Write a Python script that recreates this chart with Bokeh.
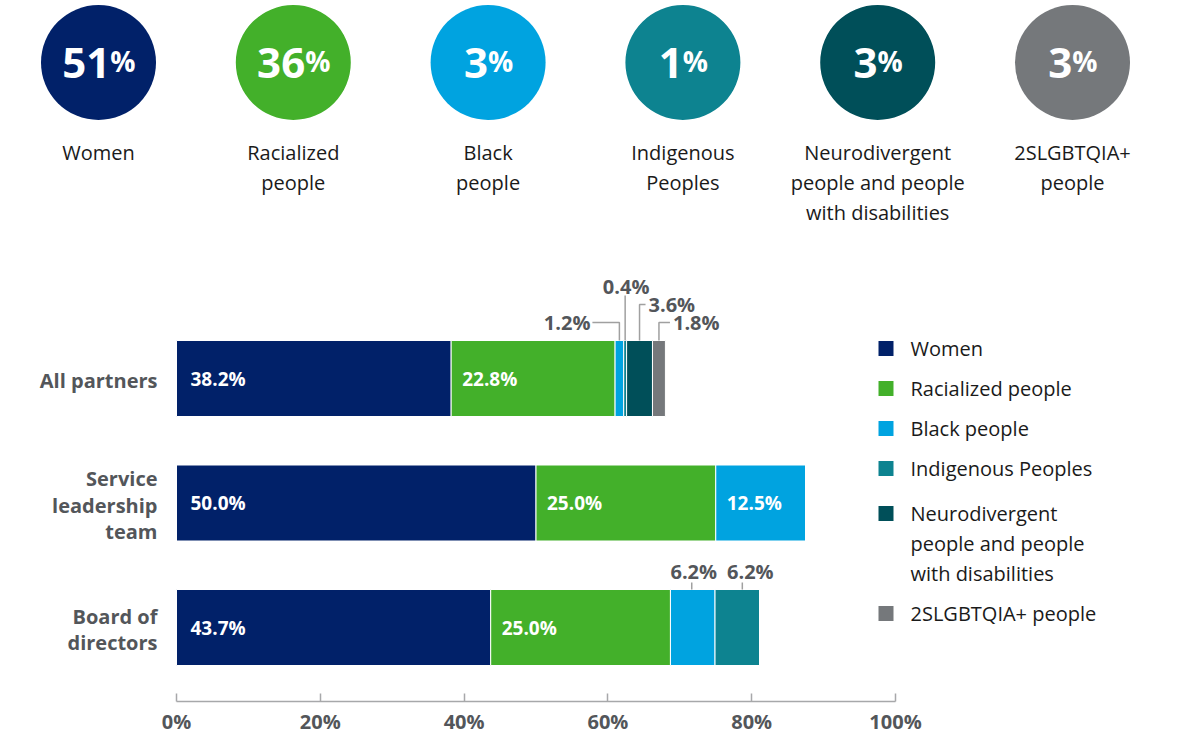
from bokeh.plotting import figure
from bokeh.layouts import column
from bokeh.models import Range1d, FixedTicker
from bokeh.core.properties import value
from bokeh.embed import file_html
from bokeh.resources import INLINE

# ---------------- data ----------------
groups = ["Women", "Racialized people", "Black people", "Indigenous Peoples",
          "Neurodivergent people and people with disabilities", "2SLGBTQIA+ people"]
overall_pct = [51, 36, 3, 1, 3, 3]
circle_labels = [["Women"], ["Racialized", "people"], ["Black", "people"],
                 ["Indigenous", "Peoples"],
                 ["Neurodivergent", "people and people", "with disabilities"],
                 ["2SLGBTQIA+", "people"]]
legend_labels = [["Women"], ["Racialized people"], ["Black people"], ["Indigenous Peoples"],
                 ["Neurodivergent", "people and people", "with disabilities"],
                 ["2SLGBTQIA+ people"]]
colors = ["#012169", "#43B02A", "#00A3E0", "#0D8390", "#004F59", "#75787B"]

rows = ["All partners", "Service leadership team", "Board of directors"]
row_labels = [["All partners"], ["Service", "leadership", "team"], ["Board of", "directors"]]
women = [38.2, 50.0, 43.7]
racialized = [22.8, 25.0, 25.0]
black = [1.2, 12.5, 6.2]
indigenous = [0.4, 0.0, 6.2]
neuro = [3.6, 0.0, 0.0]
lgbt = [1.8, 0.0, 0.0]
series = [women, racialized, black, indigenous, neuro, lgbt]
keys = ["women", "racialized", "black", "indigenous", "neuro", "lgbt"]

x_ticks = [0, 20, 40, 60, 80, 100]
x_tick_labels = ["0%", "20%", "40%", "60%", "80%", "100%"]

FONT = "Open Sans"
W = 1184
GRAY = "#53565a"
TXT = "#1a1a1a"

# ---------------- top figure: circles ----------------
TOP_H = 240
C0_PX, C_STEP = 98, 194.8
top = figure(width=W, height=TOP_H,
             x_range=Range1d((0 - C0_PX) / C_STEP, (W - C0_PX) / C_STEP),
             y_range=Range1d(TOP_H, 0),
             toolbar_location=None, output_backend="svg", x_axis_location=None,
             y_axis_location=None, min_border=0, outline_line_color=None, title=None)
top.grid.visible = False
idx = list(range(len(groups)))
CY = 62
top.scatter(x=idx, y=[CY] * len(idx), size=115, marker="circle", fill_color=colors, line_color=None)

nums = [str(v) for v in overall_pct]
NUM_FS, PCT_FS = 42, 28
split = [(len(s) * 0.572 * NUM_FS - 0.87 * PCT_FS) / 2 for s in nums]
top.text(x=idx, y=[CY] * len(idx), text=nums, x_offset=split, text_align="right",
         text_baseline="middle", text_font=value(FONT), text_font_style="bold",
         text_font_size=f"{NUM_FS}px", text_color="white")
top.text(x=idx, y=[CY - 2] * len(idx), text=["%"] * len(idx), x_offset=split, text_align="left",
         text_baseline="middle", text_font=value(FONT), text_font_style="bold",
         text_font_size=f"{PCT_FS}px", text_color="white")

cl_x, cl_y, cl_t = [], [], []
for i, lines in enumerate(circle_labels):
    for j, t in enumerate(lines):
        cl_x.append(i)
        cl_y.append(152 + 30 * j)
        cl_t.append(t)
top.text(x=cl_x, y=cl_y, text=cl_t, text_align="center", text_baseline="middle",
         text_font=value(FONT), text_font_size="20px", text_color=TXT)

# ---------------- bottom figure: stacked bars ----------------
FRAME_TOP_PX, FRAME_BOT_PX = TOP_H, 701   # page pixel positions
BOT_H = 498
X0_PX, X100_PX = 176, 895
PX_PER_X = (X100_PX - X0_PX) / 100.0
ROW0_PX, PX_PER_Y = 378, 124.5
LEFT_PX, RIGHT_PX = 0, W


def px2x(px):
    return (px - X0_PX) / PX_PER_X


def py2y(py):
    return (py - ROW0_PX) / PX_PER_Y


bot = figure(width=W, height=BOT_H,
             x_range=Range1d(px2x(LEFT_PX), px2x(RIGHT_PX)),
             y_range=Range1d(py2y(FRAME_BOT_PX), py2y(FRAME_TOP_PX)),
             toolbar_location=None, output_backend="svg", y_axis_location=None,
             min_border_left=0, min_border_right=0, min_border_top=0,
             min_border_bottom=BOT_H - (FRAME_BOT_PX - FRAME_TOP_PX),
             outline_line_color=None, title=None)
bot.grid.visible = False

BAR_H = 76 / PX_PER_Y
src = dict(y=list(range(len(rows))))
for k, s in zip(keys, series):
    src[k] = s
bot.hbar_stack(keys, y="y", height=BAR_H, color=colors, line_color="white", line_width=1,
               source=src)

# labels
in_x, in_y, in_t, in_off = [], [], [], []
out_spec = {
    (0, 2): (-29, -18, "right", [(0, 0), (0, -18), (-27, -18)]),
    (0, 3): (1, -54, "center", [(0, 0), (0, -45)]),
    (0, 4): (9, -36, "left", [(0, 0), (0, -36), (6, -36)]),
    (0, 5): (14, -18, "left", [(0, 0), (0, -18), (11, -18)]),
    (2, 2): (1, -18, "center", [(-1, 0), (-1, -7)]),
    (2, 3): (13, -18, "center", [(5, 0), (5, -7)]),
}
out = {"left": ([], [], []), "center": ([], [], []), "right": ([], [], [])}
lead_xs, lead_ys = [], []
for r in range(len(rows)):
    left = 0.0
    for s_i, s in enumerate(series):
        v = s[r]
        if v > 0:
            label = f"{v:.1f}%"
            if (r, s_i) in out_spec:
                tdx, tdy, align, pts = out_spec[(r, s_i)]
                ax = left + v / 2
                ay = r - BAR_H / 2
                out[align][0].append(ax + tdx / PX_PER_X)
                out[align][1].append(ay + tdy / PX_PER_Y)
                out[align][2].append(label)
                lead_xs.append([ax + dx / PX_PER_X for dx, dy in pts])
                lead_ys.append([ay + dy / PX_PER_Y for dx, dy in pts])
            else:
                in_x.append(left)
                in_y.append(r)
                in_t.append(label)
                in_off.append(14 if s_i == 0 else 11)
        left += v

bot.text(x=in_x, y=in_y, text=in_t, x_offset=in_off, text_align="left", text_baseline="middle",
         text_font=value(FONT), text_font_style="bold", text_font_size="19px", text_color="white")
bot.multi_line(xs=lead_xs, ys=lead_ys, line_color="#a0a0a0", line_width=1.5)
for align, (ox, oy, ot) in out.items():
    if ot:
        bot.text(x=ox, y=oy, text=ot, text_align=align, text_baseline="middle",
                 text_font=value(FONT), text_font_style="bold", text_font_size="20px",
                 text_color=GRAY)

# row labels
rl_x, rl_y, rl_t = [], [], []
for r, lines in enumerate(row_labels):
    n = len(lines)
    for j, t in enumerate(lines):
        rl_x.append(0)
        rl_y.append(r + ((j - (n - 1) / 2) * 26.5 + 2) / PX_PER_Y)
        rl_t.append(t)
bot.text(x=rl_x, y=rl_y, text=rl_t, x_offset=-19, text_align="right", text_baseline="middle",
         text_font=value(FONT), text_font_style="bold", text_font_size="20px", text_color=GRAY)

# legend (drawn manually)
lg_sx, lg_sy, lg_tx, lg_ty, lg_t = [], [], [], [], []
ypx = 348
for k, lines in enumerate(legend_labels):
    if len(lines) > 1:
        ypx += 5
    lg_sx.append(px2x(885.5))
    lg_sy.append(py2y(ypx))
    for j, t in enumerate(lines):
        lg_tx.append(px2x(910))
        lg_ty.append(py2y(ypx + 30 * j))
        lg_t.append(t)
    ypx += 40 + 30 * (len(lines) - 1)
bot.scatter(x=lg_sx, y=lg_sy, marker="square", size=15, fill_color=colors, line_color=None)
bot.text(x=lg_tx, y=lg_ty, text=lg_t, text_align="left", text_baseline="middle",
         text_font=value(FONT), text_font_size="20px", text_color=TXT)

# x axis
ax = bot.xaxis[0]
ax.ticker = FixedTicker(ticks=x_ticks, minor_ticks=[])
ax.bounds = (0, 100)
ax.major_label_overrides = {t: l for t, l in zip(x_ticks, x_tick_labels)}
ax.axis_line_color = "#a7a8aa"
ax.axis_line_width = 1.5
ax.major_tick_line_color = "#a7a8aa"
ax.major_tick_line_width = 1.5
ax.major_tick_in = 8
ax.major_tick_out = 0
ax.minor_tick_line_color = None
ax.major_label_standoff = 6
ax.major_label_text_font = FONT
ax.major_label_text_font_style = "bold"
ax.major_label_text_font_size = "20px"
ax.major_label_text_color = GRAY

layout = column(top, bot, spacing=0)
open("out.html", "w").write(file_html(layout, INLINE))
